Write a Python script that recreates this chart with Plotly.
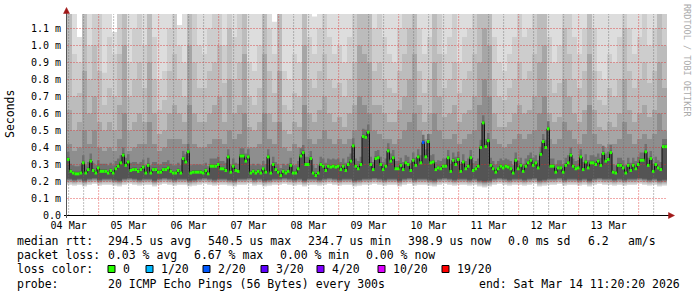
import pandas as pd
import plotly.graph_objects as go

# ---------------------------------------------------------------- data
start_time = "2026-03-04 11:20:20"
end_time = "2026-03-14 11:20:20"

# hourly median RTT (ms)
median_rtt_ms = [
    0.33, 0.26, 0.25, 0.245, 0.245, 0.25, 0.31, 0.25, 0.27, 0.32,
    0.265, 0.25, 0.28, 0.26, 0.26, 0.26, 0.25, 0.265, 0.25, 0.275,
    0.29, 0.31, 0.355, 0.295, 0.315, 0.265, 0.27, 0.27, 0.26, 0.27,
    0.285, 0.25, 0.295, 0.25, 0.27, 0.27, 0.255, 0.255, 0.27, 0.27,
    0.28, 0.26, 0.25, 0.25, 0.265, 0.25, 0.335, 0.315, 0.375, 0.25,
    0.255, 0.255, 0.255, 0.255, 0.25, 0.265, 0.245, 0.29, 0.29,
    0.29, 0.30, 0.275, 0.275, 0.265, 0.345, 0.255, 0.29, 0.265, 0.26,
    0.35, 0.35, 0.32, 0.345, 0.25, 0.26, 0.25, 0.26, 0.25, 0.275,
    0.255, 0.345, 0.25, 0.30, 0.27, 0.255, 0.235, 0.26, 0.25, 0.26,
    0.295, 0.25, 0.25, 0.275, 0.35, 0.37, 0.30, 0.30, 0.335, 0.25,
    0.235, 0.25, 0.30, 0.29, 0.265, 0.29, 0.285, 0.29, 0.285, 0.29,
    0.27, 0.29, 0.265, 0.30, 0.32, 0.41, 0.29, 0.275, 0.30, 0.465,
    0.46,
    0.49, 0.30, 0.27, 0.335, 0.34, 0.30, 0.27, 0.29, 0.38, 0.32,
    0.34, 0.275, 0.275, 0.295, 0.27, 0.31, 0.30, 0.265, 0.325, 0.295,
    0.345, 0.31, 0.43, 0.345, 0.435, 0.31, 0.315, 0.27, 0.28, 0.275,
    0.29, 0.29, 0.34, 0.26, 0.325, 0.30, 0.33, 0.26, 0.315, 0.275,
    0.29, 0.34, 0.265, 0.275, 0.29, 0.40, 0.545, 0.405, 0.44, 0.295,
    0.275, 0.255, 0.275, 0.29, 0.28, 0.29, 0.285, 0.275, 0.25,
    0.325, 0.275, 0.295, 0.26, 0.29, 0.31, 0.325, 0.295, 0.31, 0.28,
    0.36, 0.435, 0.40, 0.51, 0.29, 0.29, 0.255, 0.28, 0.28, 0.255,
    0.295, 0.31, 0.355, 0.29, 0.275, 0.28, 0.345, 0.27, 0.315, 0.28,
    0.31, 0.31, 0.30, 0.32, 0.295, 0.365, 0.32, 0.33, 0.37, 0.255,
    0.25, 0.295, 0.295, 0.28, 0.25, 0.295, 0.265, 0.295, 0.275, 0.30,
    0.325, 0.325, 0.375, 0.295, 0.335, 0.26, 0.30, 0.28, 0.27, 0.405, 0.405,
]

# hours (index into median_rtt_ms) that had packet loss, and their loss bin
loss_hour_index = [142]
loss_hour_bin = ["2/20"]

loss_labels = ["0", "1/20", "2/20", "3/20", "4/20", "10/20", "19/20"]
loss_colors = ["#26ff00", "#00b8ff", "#0059ff", "#5e00ff", "#7e00ff", "#dd00ff", "#ff0000"]

# smoke (2-hour columns, ms): bottom of the smoke and the tops of the gray layers
smoke_floor_ms = [
    0.18, 0.175, 0.18, 0.17, 0.18, 0.185, 0.175, 0.18, 0.18, 0.175,
    0.17, 0.18, 0.185, 0.18, 0.175, 0.18, 0.18, 0.17, 0.18, 0.185,
    0.18, 0.175, 0.18, 0.18, 0.17, 0.175, 0.18, 0.185, 0.18, 0.175,
    0.18, 0.18, 0.175, 0.17, 0.18, 0.18, 0.185, 0.175, 0.18, 0.17,
    0.175, 0.18, 0.18, 0.185, 0.18, 0.175, 0.18, 0.17, 0.18, 0.18,
    0.175, 0.18, 0.185, 0.18, 0.175, 0.18, 0.18, 0.17, 0.175, 0.18,
    0.18, 0.185, 0.18, 0.175, 0.18, 0.18, 0.17, 0.18, 0.185, 0.175,
    0.18, 0.18, 0.175, 0.17, 0.18, 0.185, 0.18, 0.175, 0.18, 0.18,
    0.175, 0.18, 0.17, 0.165, 0.17, 0.18, 0.185, 0.18, 0.175, 0.18,
    0.18, 0.175, 0.18, 0.185, 0.17, 0.175, 0.18, 0.18, 0.185, 0.175,
    0.18, 0.18, 0.175, 0.18, 0.17, 0.18, 0.185, 0.18, 0.18, 0.175,
    0.18, 0.175, 0.18, 0.18, 0.185, 0.18, 0.175, 0.18, 0.17, 0.175,
]
smoke_top1_ms = [
    1.19, 1.19, 1.05, 1.19, 1.19, 1.19, 1.19, 1.19, 1.19, 1.08,
    1.19, 1.19, 1.19, 1.19, 1.19, 1.19, 1.19, 1.19, 1.19, 1.19,
    1.19, 1.19, 1.12, 1.19, 1.19, 1.19, 1.19, 1.19, 1.19, 1.19,
    1.19, 1.19, 1.19, 1.19, 1.19, 1.19, 1.19, 1.19, 1.19, 1.19,
    1.19, 1.14, 1.19, 1.19, 1.19, 1.19, 1.19, 1.19, 1.19, 1.17,
    1.19, 1.19, 1.19, 1.19, 1.19, 1.19, 1.19, 1.19, 1.19, 1.19,
    1.19, 1.19, 1.19, 1.19, 1.19, 1.19, 1.19, 1.19, 1.19, 1.19,
    1.19, 1.19, 1.19, 1.19, 1.19, 1.19, 1.19, 1.19, 1.19, 1.19,
    1.19, 1.19, 1.19, 1.19, 1.19, 1.19, 1.19, 1.19, 1.19, 1.19,
    1.19, 1.19, 1.19, 1.19, 1.19, 1.19, 1.19, 1.19, 1.19, 1.19,
    1.19, 1.19, 1.19, 1.19, 1.19, 1.19, 1.19, 1.19, 1.19, 1.19,
    1.19, 1.19, 1.19, 1.19, 1.19, 1.19, 1.19, 1.19, 1.19, 1.19,
]
smoke_top2_ms = [
    1.19, 0.95, 0.9, 1.19, 1.0, 1.19, 1.19, 0.84, 1.05, 0.95,
    1.19, 1.19, 0.9, 1.1, 1.19, 1.0, 1.19, 1.05, 0.8, 0.85,
    1.1, 1.19, 1.0, 0.9, 1.19, 1.19, 1.0, 0.95, 1.1, 1.19,
    1.19, 1.0, 1.19, 1.05, 1.19, 1.19, 0.9, 0.85, 1.0, 1.19,
    1.1, 0.95, 1.19, 0.85, 0.8, 0.95, 0.9, 1.19, 1.05, 0.95,
    1.1, 1.19, 1.05, 0.95, 1.0, 0.9, 1.05, 1.19, 1.19, 1.19,
    1.19, 1.1, 1.19, 1.05, 0.95, 0.9, 1.1, 1.19, 1.19, 1.19,
    1.1, 0.95, 1.05, 1.19, 1.19, 0.95, 1.05, 1.19, 0.9, 1.05,
    1.1, 1.19, 1.19, 1.19, 1.19, 1.05, 0.9, 0.85, 0.95, 1.05,
    1.19, 1.05, 1.1, 1.19, 1.19, 1.19, 1.05, 0.9, 1.0, 1.19,
    1.19, 1.05, 0.95, 1.1, 1.19, 1.1, 0.85, 0.8, 0.95, 0.9,
    1.05, 1.19, 1.1, 0.95, 1.05, 1.19, 1.0, 1.1, 1.19, 1.19,
]
smoke_top3_ms = [
    1.19, 0.7, 0.72, 1.19, 0.8, 1.0, 0.85, 0.65, 0.75, 0.7,
    0.95, 1.19, 0.7, 0.8, 0.9, 0.75, 1.19, 0.8, 0.62, 0.68,
    0.85, 0.95, 0.8, 0.7, 1.19, 0.9, 0.75, 0.75, 0.85, 0.9,
    1.0, 0.78, 1.1, 0.8, 0.9, 1.19, 0.7, 0.65, 0.75, 1.19,
    0.85, 0.72, 1.19, 0.65, 0.62, 0.72, 0.7, 1.19, 0.8, 0.75,
    0.85, 0.95, 0.8, 0.75, 0.78, 0.7, 0.8, 0.9, 1.19, 1.19,
    1.19, 0.85, 0.9, 0.8, 0.75, 0.72, 0.85, 0.95, 1.1, 1.19,
    0.85, 0.72, 0.8, 1.19, 0.95, 0.75, 0.8, 0.9, 0.72, 0.8,
    0.85, 0.95, 1.19, 1.19, 1.19, 0.8, 0.7, 0.68, 0.75, 0.8,
    0.9, 0.8, 0.85, 0.95, 1.19, 1.19, 0.8, 0.72, 0.78, 1.1,
    0.95, 0.8, 0.75, 0.85, 1.19, 0.85, 0.68, 0.65, 0.75, 0.7,
    0.8, 1.1, 0.85, 0.75, 0.8, 0.9, 0.78, 0.85, 1.19, 1.0,
]
smoke_top4_ms = [
    0.62, 0.5, 0.55, 0.85, 0.6, 0.7, 0.55, 0.5, 0.55, 0.5,
    0.65, 1.0, 0.5, 0.55, 0.6, 0.55, 0.9, 0.6, 0.48, 0.5,
    0.6, 0.65, 0.6, 0.55, 1.0, 0.6, 0.55, 0.55, 0.6, 0.65,
    0.7, 0.55, 0.8, 0.6, 0.65, 0.95, 0.52, 0.5, 0.55, 0.95,
    0.6, 0.55, 0.85, 0.5, 0.48, 0.55, 0.52, 1.0, 0.6, 0.55,
    0.62, 0.7, 0.6, 0.55, 0.58, 0.52, 0.6, 0.65, 1.0, 0.95,
    0.9, 0.65, 0.65, 0.6, 0.55, 0.55, 0.62, 0.7, 0.8, 0.95,
    0.65, 0.55, 0.6, 0.9, 0.7, 0.58, 0.6, 0.65, 0.55, 0.6,
    0.62, 0.7, 0.9, 1.1, 1.0, 0.6, 0.52, 0.52, 0.55, 0.6,
    0.65, 0.6, 0.62, 0.7, 0.9, 1.0, 0.6, 0.55, 0.58, 0.8,
    0.7, 0.6, 0.55, 0.62, 0.95, 0.62, 0.52, 0.5, 0.55, 0.52,
    0.6, 0.8, 0.62, 0.55, 0.6, 0.65, 0.58, 0.62, 0.9, 0.75,
]
smoke_top5_ms = [
    0.42, 0.38, 0.4, 0.5, 0.42, 0.5, 0.4, 0.38, 0.4, 0.38,
    0.45, 0.6, 0.38, 0.4, 0.42, 0.42, 0.55, 0.42, 0.38, 0.4,
    0.45, 0.45, 0.45, 0.42, 0.65, 0.42, 0.4, 0.4, 0.42, 0.45,
    0.45, 0.42, 0.5, 0.45, 0.48, 0.6, 0.4, 0.4, 0.42, 0.6,
    0.45, 0.42, 0.55, 0.4, 0.38, 0.42, 0.4, 0.65, 0.45, 0.42,
    0.45, 0.5, 0.45, 0.42, 0.45, 0.42, 0.45, 0.5, 0.7, 0.65,
    0.6, 0.5, 0.48, 0.45, 0.45, 0.42, 0.45, 0.5, 0.55, 0.6,
    0.5, 0.45, 0.48, 0.6, 0.5, 0.45, 0.45, 0.48, 0.42, 0.45,
    0.48, 0.5, 0.65, 0.8, 0.7, 0.45, 0.42, 0.4, 0.42, 0.45,
    0.48, 0.45, 0.48, 0.5, 0.6, 0.7, 0.45, 0.42, 0.45, 0.55,
    0.5, 0.45, 0.42, 0.48, 0.65, 0.48, 0.42, 0.4, 0.42, 0.42,
    0.45, 0.55, 0.48, 0.42, 0.45, 0.48, 0.45, 0.48, 0.6, 0.5,
]

y_tick_values = [0.0, 0.1, 0.2, 0.3, 0.4, 0.5, 0.6, 0.7, 0.8, 0.9, 1.0, 1.1]
y_tick_labels = ["0.0", "0.1 m", "0.2 m", "0.3 m", "0.4 m", "0.5 m", "0.6 m",
                 "0.7 m", "0.8 m", "0.9 m", "1.0 m", "1.1 m"]
x_tick_days = ["2026-03-04", "2026-03-05", "2026-03-06", "2026-03-07", "2026-03-08",
               "2026-03-09", "2026-03-10", "2026-03-11", "2026-03-12", "2026-03-13"]
x_tick_labels = ["04 Mar", "05 Mar", "06 Mar", "07 Mar", "08 Mar",
                 "09 Mar", "10 Mar", "11 Mar", "12 Mar", "13 Mar"]

legend_rtt = [("median rtt:", 16), ("294.5 us avg", 107), ("540.5 us max", 207),
              ("234.7 us min", 307), ("398.9 us now", 407), ("0.0 ms sd", 507),
              ("6.2", 587), ("am/s", 627)]
legend_loss = [("packet loss:", 16), ("0.03 % avg", 107), ("6.67 % max", 193),
               ("0.00 % min", 279), ("0.00 % now", 365)]
legend_probe = [("probe:", 16), ("20 ICMP Echo Pings (56 Bytes) every 300s", 107),
                ("end: Sat Mar 14 11:20:20 2026", 478)]
loss_swatch_px = [108, 146, 203, 261, 317, 378, 442]

# ---------------------------------------------------------------- geometry / style
W, H = 697, 297
ML, MR, MT, MB = 67, 30, 14, 81
PW, PH = W - ML - MR, H - MT - MB
PX_PER_MS = 170.0
Y_MIN = -0.5 / PX_PER_MS
Y_MAX = Y_MIN + PH / PX_PER_MS
MONO = "DejaVu Sans Mono"
layer_colors = ["#dddddd", "#cdcdcd", "#bcbcbc", "#a6a6a6", "#8e8e8e"]
layer_low_offsets = [0.0, 0.006, 0.012, 0.018, 0.024]
core_colors = ["#707070", "#545454"]
core_low_offsets = [0.03, 0.036]
core_high_offsets = [0.045, 0.012]
MAJOR_GRID = "rgba(220,40,40,0.4)"
MINOR_GRID = "rgba(110,110,110,0.45)"
GRID_DASH = "2px,1px"
ARROW = "#a01818"
AXIS_ROW = 215.5


def px_x(px):
    return (px - ML) / PW


def px_y(py):
    return (MT + PH - py) / PH


def fmt(ts):
    return ts.strftime("%Y-%m-%d %H:%M:%S")


t0 = pd.Timestamp(start_time)
t_end = pd.Timestamp(end_time)
n_hours = len(median_rtt_ms)
n_cols = len(smoke_floor_ms)
hour_edges = [fmt(t0 + pd.Timedelta(hours=i)) for i in range(n_hours + 1)]
col_edges = [fmt(t0 + pd.Timedelta(hours=2 * i)) for i in range(n_cols + 1)]

fig = go.Figure()


def band(edges, lo, hi, color):
    fig.add_trace(go.Scatter(x=edges, y=list(lo) + [lo[-1]], mode="lines",
                             line=dict(width=0, shape="hv"), hoverinfo="skip",
                             showlegend=False))
    fig.add_trace(go.Scatter(x=edges, y=list(hi) + [hi[-1]], mode="lines",
                             line=dict(width=0, shape="hv"), fill="tonexty",
                             fillcolor=color, hoverinfo="skip", showlegend=False))


tops = [smoke_top1_ms, smoke_top2_ms, smoke_top3_ms, smoke_top4_ms, smoke_top5_ms]
for top, color, off in zip(tops, layer_colors, layer_low_offsets):
    lo = [f + off for f in smoke_floor_ms]
    band(col_edges, lo, top, color)

hour_floor = [smoke_floor_ms[min(i // 2, n_cols - 1)] for i in range(n_hours)]
for color, lo_off, hi_off in zip(core_colors, core_low_offsets, core_high_offsets):
    lo = [f + lo_off for f in hour_floor]
    hi = [m + hi_off for m in median_rtt_ms]
    band(hour_edges, lo, hi, color)

# grid drawn above the smoke
hx, hy = [], []
for yv in y_tick_values[1:]:
    hx += [fmt(t0), fmt(t_end), None]
    hy += [yv, yv, None]
fig.add_trace(go.Scatter(x=hx, y=hy, mode="lines",
                         line=dict(color=MAJOR_GRID, width=1, dash=GRID_DASH),
                         hoverinfo="skip", showlegend=False))

minor_x, minor_y = [], []
for ts in pd.date_range(pd.Timestamp(x_tick_days[0]) + pd.Timedelta(hours=12), t_end, freq="6h"):
    if ts.hour != 0:
        minor_x += [fmt(ts), fmt(ts), None]
        minor_y += [Y_MIN, Y_MAX, None]
fig.add_trace(go.Scatter(x=minor_x, y=minor_y, mode="lines",
                         line=dict(color=MINOR_GRID, width=1, dash=GRID_DASH),
                         hoverinfo="skip", showlegend=False))

major_x, major_y = [], []
for ts in pd.date_range(pd.Timestamp(x_tick_days[1]), t_end, freq="D"):
    major_x += [fmt(ts), fmt(ts), None]
    major_y += [Y_MIN, Y_MAX, None]
fig.add_trace(go.Scatter(x=major_x, y=major_y, mode="lines",
                         line=dict(color=MAJOR_GRID, width=1, dash=GRID_DASH),
                         hoverinfo="skip", showlegend=False))

# median: dark step line plus coloured horizontal segments
fig.add_trace(go.Scatter(x=hour_edges, y=median_rtt_ms + [median_rtt_ms[-1]], mode="lines",
                         line=dict(color="#111111", width=1, shape="hv"),
                         hoverinfo="skip", showlegend=False))

hour_bin = ["0"] * n_hours
for idx, b in zip(loss_hour_index, loss_hour_bin):
    hour_bin[idx] = b
for lab, col in zip(loss_labels, loss_colors):
    sx, sy = [], []
    for i in range(n_hours):
        if hour_bin[i] == lab:
            sx += [hour_edges[i], hour_edges[i + 1], None]
            sy += [median_rtt_ms[i], median_rtt_ms[i], None]
    if sx:
        fig.add_trace(go.Scatter(x=sx, y=sy, mode="lines", line=dict(color=col, width=3),
                                 hoverinfo="skip", showlegend=False))

tick_noon = [fmt(pd.Timestamp(d) + pd.Timedelta(hours=12)) for d in x_tick_days]

fig.update_layout(
    width=W, height=H,
    margin=dict(l=ML, r=MR, t=MT, b=MB, pad=0),
    paper_bgcolor="#ffffff", plot_bgcolor="#ffffff",
    showlegend=False,
    font=dict(family=MONO, size=10, color="#000000"),
    xaxis=dict(type="date", range=[fmt(t0), fmt(t_end)], tickvals=tick_noon,
               ticktext=x_tick_labels, showgrid=False, zeroline=False,
               showline=False, ticks="", ticklabelstandoff=2,
               tickfont=dict(family=MONO, size=10, color="#000000"), fixedrange=True),
    yaxis=dict(range=[Y_MIN, Y_MAX], tickvals=y_tick_values, ticktext=y_tick_labels,
               showgrid=False, zeroline=False, showline=False,
               ticks="", ticklabelstandoff=5,
               tickfont=dict(family=MONO, size=10, color="#000000"), fixedrange=True),
)

ann = []
ann.append(dict(text="Seconds", x=px_x(10), y=px_y(114), xref="paper", yref="paper",
                textangle=-90, showarrow=False, xanchor="center", yanchor="middle",
                font=dict(family=MONO, size=11.5, color="#000000")))
ann.append(dict(text="RRDTOOL / TOBI OETIKER", x=px_x(687), y=px_y(60), xref="paper",
                yref="paper", textangle=90, showarrow=False, xanchor="center",
                yanchor="middle", font=dict(family=MONO, size=8.5, color="#aaaaaa")))


def legend_line(items, py):
    for txt, px in items:
        ann.append(dict(text=txt, x=px_x(px), y=px_y(py), xref="paper", yref="paper",
                        showarrow=False, xanchor="left", yanchor="middle", borderpad=0,
                        font=dict(family=MONO, size=11.5, color="#000000")))


legend_line(legend_rtt, 241)
legend_line(legend_loss, 255)
legend_line([("loss color:", 16)], 269)
legend_line([(lab, sx + 14) for lab, sx in zip(loss_labels, loss_swatch_px)], 269)
legend_line(legend_probe, 284)

shapes = []
for sx, col in zip(loss_swatch_px, loss_colors):
    shapes.append(dict(type="rect", xref="paper", yref="paper",
                       x0=px_x(sx), x1=px_x(sx + 7), y0=px_y(272.5), y1=px_y(265.5),
                       fillcolor=col, line=dict(color="#000000", width=1)))

# axis lines and arrows (frame decoration, in pixel-derived paper coordinates)
shapes.append(dict(type="line", xref="paper", yref="paper",
                   x0=px_x(64), x1=px_x(669), y0=px_y(AXIS_ROW), y1=px_y(AXIS_ROW),
                   line=dict(color="#000000", width=1)))
shapes.append(dict(type="line", xref="paper", yref="paper",
                   x0=px_x(66.5), x1=px_x(66.5), y0=px_y(218), y1=px_y(11),
                   line=dict(color="#555555", width=1)))


def tri_path(pts):
    return "M " + " L ".join(f"{px_x(a):.5f},{px_y(b):.5f}" for a, b in pts) + " Z"


shapes.append(dict(type="path", xref="paper", yref="paper",
                   path=tri_path([(63.5, 13.5), (69.5, 13.5), (66.5, 7.5)]),
                   fillcolor=ARROW, line=dict(color=ARROW, width=0.5)))
shapes.append(dict(type="path", xref="paper", yref="paper",
                   path=tri_path([(668.5, 212.5), (668.5, 218.5), (674.5, 215.5)]),
                   fillcolor=ARROW, line=dict(color=ARROW, width=0.5)))

fig.update_layout(annotations=ann, shapes=shapes)
fig.write_html("out.html")
